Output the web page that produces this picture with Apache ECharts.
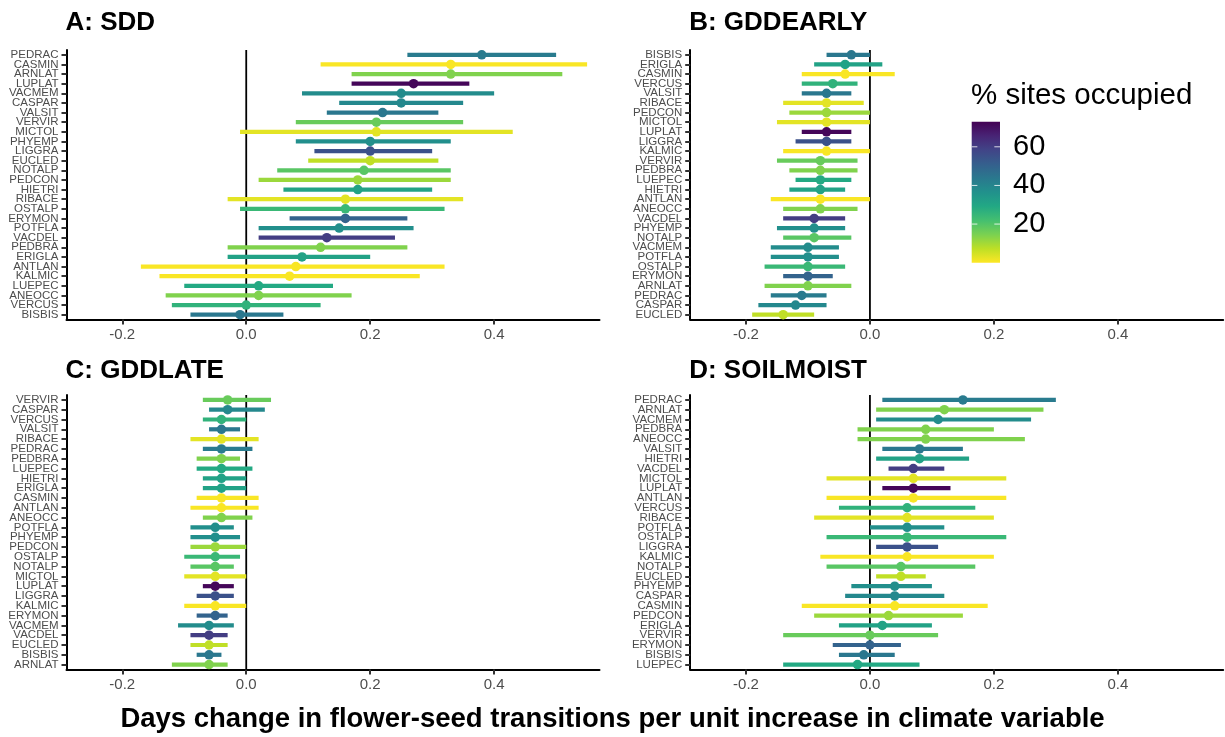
<!DOCTYPE html>
<html>
<head>
<meta charset="utf-8">
<script src="https://cdn.jsdelivr.net/npm/echarts@6/dist/echarts.min.js"></script>
<style>
  html, body { margin: 0; padding: 0; background: #fff; }
  #chart { width: 1225px; height: 737px; }
</style>
</head>
<body>
<div id="chart"></div>
<script>
// Percentage of sites occupied by each species (drives the colour scale)
const species   = ['LUPLAT','VACDEL','LIGGRA','ERYMON','BISBIS','VALSIT','PEDRAC','CASPAR','VACMEM','PHYEMP',
                   'POTFLA','HIETRI','ERIGLA','LUEPEC','VERCUS','OSTALP','NOTALP','VERVIR','ARNLAT','PEDBRA',
                   'ANEOCC','PEDCON','EUCLED','RIBACE','MICTOL','CASMIN','ANTLAN','KALMIC'];
const occupancy = [72, 60, 55, 50, 44, 44, 43, 39, 38, 37,
                   37, 31, 31, 29, 26, 24, 19, 17, 14, 14,
                   14, 11, 7, 3, 3, 0.5, 0.5, 0.5];
const occRange = [0, 73];
const legendTicks = [20, 40, 60];

// A: SDD
const sddSpecies = ['PEDRAC','CASMIN','ARNLAT','LUPLAT','VACMEM','CASPAR','VALSIT','VERVIR','MICTOL','PHYEMP',
                    'LIGGRA','EUCLED','NOTALP','PEDCON','HIETRI','RIBACE','OSTALP','ERYMON','POTFLA','VACDEL',
                    'PEDBRA','ERIGLA','ANTLAN','KALMIC','LUEPEC','ANEOCC','VERCUS','BISBIS'];
const sddLow  = [0.26, 0.12, 0.17, 0.17, 0.09, 0.15, 0.13, 0.08, -0.01, 0.08,
                 0.11, 0.10, 0.05, 0.02, 0.06, -0.03, -0.01, 0.07, 0.02, 0.02,
                 -0.03, -0.03, -0.17, -0.14, -0.10, -0.13, -0.12, -0.09];
const sddEst  = [0.38, 0.33, 0.33, 0.27, 0.25, 0.25, 0.22, 0.21, 0.21, 0.20,
                 0.20, 0.20, 0.19, 0.18, 0.18, 0.16, 0.16, 0.16, 0.15, 0.13,
                 0.12, 0.09, 0.08, 0.07, 0.02, 0.02, 0.00, -0.01];
const sddHigh = [0.50, 0.55, 0.51, 0.36, 0.40, 0.35, 0.31, 0.35, 0.43, 0.33,
                 0.30, 0.31, 0.33, 0.33, 0.30, 0.35, 0.32, 0.26, 0.27, 0.24,
                 0.26, 0.20, 0.32, 0.28, 0.14, 0.17, 0.12, 0.06];

// B: GDDEARLY
const earlySpecies = ['BISBIS','ERIGLA','CASMIN','VERCUS','VALSIT','RIBACE','PEDCON','MICTOL','LUPLAT','LIGGRA',
                      'KALMIC','VERVIR','PEDBRA','LUEPEC','HIETRI','ANTLAN','ANEOCC','VACDEL','PHYEMP','NOTALP',
                      'VACMEM','POTFLA','OSTALP','ERYMON','ARNLAT','PEDRAC','CASPAR','EUCLED'];
const earlyLow  = [-0.07, -0.09, -0.11, -0.11, -0.11, -0.14, -0.13, -0.15, -0.11, -0.12,
                   -0.14, -0.15, -0.13, -0.12, -0.13, -0.16, -0.14, -0.14, -0.15, -0.14,
                   -0.16, -0.16, -0.17, -0.14, -0.17, -0.16, -0.18, -0.19];
const earlyEst  = [-0.03, -0.04, -0.04, -0.06, -0.07, -0.07, -0.07, -0.07, -0.07, -0.07,
                   -0.07, -0.08, -0.08, -0.08, -0.08, -0.08, -0.08, -0.09, -0.09, -0.09,
                   -0.10, -0.10, -0.10, -0.10, -0.10, -0.11, -0.12, -0.14];
const earlyHigh = [0.00, 0.02, 0.04, -0.02, -0.03, -0.01, 0.00, 0.00, -0.03, -0.03,
                   0.00, -0.02, -0.02, -0.03, -0.04, 0.00, -0.02, -0.04, -0.04, -0.03,
                   -0.05, -0.05, -0.04, -0.06, -0.03, -0.07, -0.07, -0.09];

// C: GDDLATE
const lateSpecies = ['VERVIR','CASPAR','VERCUS','VALSIT','RIBACE','PEDRAC','PEDBRA','LUEPEC','HIETRI','ERIGLA',
                     'CASMIN','ANTLAN','ANEOCC','POTFLA','PHYEMP','PEDCON','OSTALP','NOTALP','MICTOL','LUPLAT',
                     'LIGGRA','KALMIC','ERYMON','VACMEM','VACDEL','EUCLED','BISBIS','ARNLAT'];
const lateLow  = [-0.07, -0.06, -0.07, -0.06, -0.09, -0.07, -0.08, -0.08, -0.07, -0.07,
                  -0.08, -0.09, -0.07, -0.09, -0.09, -0.09, -0.10, -0.09, -0.10, -0.07,
                  -0.08, -0.10, -0.08, -0.11, -0.09, -0.09, -0.08, -0.12];
const lateEst  = [-0.03, -0.03, -0.04, -0.04, -0.04, -0.04, -0.04, -0.04, -0.04, -0.04,
                  -0.04, -0.04, -0.04, -0.05, -0.05, -0.05, -0.05, -0.05, -0.05, -0.05,
                  -0.05, -0.05, -0.05, -0.06, -0.06, -0.06, -0.06, -0.06];
const lateHigh = [0.04, 0.03, 0.00, -0.01, 0.02, 0.01, -0.01, 0.01, 0.00, 0.00,
                  0.02, 0.02, 0.01, -0.02, -0.01, 0.00, -0.01, -0.02, 0.00, -0.02,
                  -0.02, 0.00, -0.03, -0.02, -0.03, -0.03, -0.04, -0.03];

// D: SOILMOIST
const soilSpecies = ['PEDRAC','ARNLAT','VACMEM','PEDBRA','ANEOCC','VALSIT','HIETRI','VACDEL','MICTOL','LUPLAT',
                     'ANTLAN','VERCUS','RIBACE','POTFLA','OSTALP','LIGGRA','KALMIC','NOTALP','EUCLED','PHYEMP',
                     'CASPAR','CASMIN','PEDCON','ERIGLA','VERVIR','ERYMON','BISBIS','LUEPEC'];
const soilLow  = [0.02, 0.01, 0.01, -0.02, -0.02, 0.02, 0.01, 0.03, -0.07, 0.02,
                  -0.07, -0.05, -0.09, 0.00, -0.07, 0.01, -0.08, -0.07, 0.01, -0.03,
                  -0.04, -0.11, -0.09, -0.05, -0.14, -0.06, -0.05, -0.14];
const soilEst  = [0.15, 0.12, 0.11, 0.09, 0.09, 0.08, 0.08, 0.07, 0.07, 0.07,
                  0.07, 0.06, 0.06, 0.06, 0.06, 0.06, 0.06, 0.05, 0.05, 0.04,
                  0.04, 0.04, 0.03, 0.02, 0.00, 0.00, -0.01, -0.02];
const soilHigh = [0.30, 0.28, 0.26, 0.20, 0.25, 0.15, 0.16, 0.12, 0.22, 0.13,
                  0.22, 0.17, 0.20, 0.12, 0.22, 0.11, 0.20, 0.17, 0.09, 0.10,
                  0.12, 0.19, 0.15, 0.10, 0.11, 0.05, 0.04, 0.08];

const xTicks = [-0.2, 0, 0.2, 0.4];
const xRange = [-0.29, 0.57];

const FONT = 'Liberation Sans, Arial, Helvetica, sans-serif';
const viridis = ['#440154','#482475','#414487','#355F8D','#2A788E','#21918C',
                 '#22A884','#44BF70','#7AD151','#BDDF26','#FDE725'];

function hexToRgb(h) {
  return [parseInt(h.slice(1, 3), 16), parseInt(h.slice(3, 5), 16), parseInt(h.slice(5, 7), 16)];
}
function viridisAt(s) {
  s = Math.min(1, Math.max(0, s));
  const pos = s * (viridis.length - 1);
  const i = Math.min(viridis.length - 2, Math.floor(pos));
  const f = pos - i;
  const a = hexToRgb(viridis[i]), b = hexToRgb(viridis[i + 1]);
  const c = a.map((v, k) => Math.round(v + (b[k] - v) * f));
  return 'rgb(' + c.join(',') + ')';
}
// high occupancy -> purple, low occupancy -> yellow
function occColour(name) {
  const v = occupancy[species.indexOf(name)];
  return viridisAt(1 - (v - occRange[0]) / (occRange[1] - occRange[0]));
}

const panels = [
  { title: 'A: SDD',       names: sddSpecies,   low: sddLow,   est: sddEst,   high: sddHigh,   left: 66.5,  top: 50,  height: 269.5, titleTop: 10 },
  { title: 'B: GDDEARLY',  names: earlySpecies, low: earlyLow, est: earlyEst, high: earlyHigh, left: 690.2, top: 50,  height: 269.5, titleTop: 10 },
  { title: 'C: GDDLATE',   names: lateSpecies,  low: lateLow,  est: lateEst,  high: lateHigh,  left: 66.5,  top: 395, height: 274.5, titleTop: 358 },
  { title: 'D: SOILMOIST', names: soilSpecies,  low: soilLow,  est: soilEst,  high: soilHigh,  left: 690.2, top: 395, height: 274.5, titleTop: 358 }
];
const PANEL_W = 533;

const grids = [], xAxes = [], yAxes = [], series = [], titles = [];

panels.forEach((p, k) => {
  grids.push({ left: p.left, top: p.top, width: PANEL_W, height: p.height, containLabel: false });
  titles.push({
    text: p.title, left: p.left - 1, top: p.titleTop, padding: 0,
    textStyle: { fontFamily: FONT, fontSize: 26, fontWeight: 'bold', color: '#000' }
  });
  xAxes.push({
    gridIndex: k, type: 'value', min: xRange[0], max: xRange[1],
    axisLine: { show: true, onZero: false, lineStyle: { color: '#000', width: 2 } },
    axisTick: { show: true, customValues: xTicks, length: 5, lineStyle: { color: '#333', width: 2 } },
    axisLabel: { customValues: xTicks, formatter: v => v.toFixed(1), color: '#4D4D4D',
                 fontSize: 15, margin: 8, fontFamily: FONT },
    splitLine: { show: false }
  });
  yAxes.push({
    gridIndex: k, type: 'category', data: p.names, inverse: true,
    axisLine: { show: true, onZero: false, lineStyle: { color: '#000', width: 2 } },
    axisTick: { show: true, alignWithLabel: true, length: 5, lineStyle: { color: '#333', width: 2 } },
    axisLabel: { interval: 0, color: '#4D4D4D', fontSize: 11.5, margin: 8, fontFamily: FONT },
    splitLine: { show: false }
  });

  // vertical reference line at zero
  series.push({
    type: 'custom', xAxisIndex: k, yAxisIndex: k, z: 1, silent: true,
    data: [[0, 0]],
    encode: { x: 0, y: 1 },
    renderItem: (params, api) => {
      const pt = api.coord([api.value(0), 0]);
      const cs = params.coordSys;
      return { type: 'line', shape: { x1: pt[0], y1: cs.y, x2: pt[0], y2: cs.y + cs.height },
               style: { stroke: '#000', lineWidth: 1.8 } };
    }
  });

  // interval ranges
  series.push({
    type: 'custom', xAxisIndex: k, yAxisIndex: k, z: 2, silent: true,
    data: p.names.map((n, i) => ({ value: [p.low[i], p.high[i], i], itemStyle: { color: occColour(n) } })),
    encode: { x: [0, 1], y: 2 },
    renderItem: (params, api) => {
      const a = api.coord([api.value(0), api.value(2)]);
      const b = api.coord([api.value(1), api.value(2)]);
      return { type: 'line', shape: { x1: a[0], y1: a[1], x2: b[0], y2: b[1] },
               style: { stroke: api.visual('color'), lineWidth: 4.2, lineCap: 'butt' } };
    }
  });

  // point estimates
  series.push({
    type: 'scatter', xAxisIndex: k, yAxisIndex: k, z: 3, silent: true,
    symbol: 'circle', symbolSize: 9.5,
    data: p.names.map((n, i) => ({ value: [p.est[i], i], itemStyle: { color: occColour(n), opacity: 1 } }))
  });
});

// colour bar legend
const LEG = 4;
grids.push({ left: 971.7, top: 121.7, width: 28.3, height: 141 });
xAxes.push({ gridIndex: LEG, type: 'value', min: 0, max: 1, show: false });
yAxes.push({
  gridIndex: LEG, type: 'value', min: occRange[0], max: occRange[1], position: 'right',
  axisLine: { show: false }, axisTick: { show: false }, splitLine: { show: false },
  axisLabel: { customValues: legendTicks, color: '#000', fontSize: 29, margin: 13, fontFamily: FONT }
});
series.push({
  type: 'custom', xAxisIndex: LEG, yAxisIndex: LEG, silent: true,
  data: [[0, 0]],
  encode: { x: 0, y: 1 },
  renderItem: (params, api) => {
    const top = api.coord([0, occRange[1]]);
    const bot = api.coord([1, occRange[0]]);
    const children = [{
      type: 'rect',
      shape: { x: top[0], y: top[1], width: bot[0] - top[0], height: bot[1] - top[1] },
      style: { fill: { type: 'linear', x: 0, y: 0, x2: 0, y2: 1,
                       colorStops: viridis.map((c, i) => ({ offset: i / (viridis.length - 1), color: c })) } }
    }];
    const w = bot[0] - top[0];
    legendTicks.forEach(t => {
      const y = api.coord([0, t])[1];
      children.push({ type: 'line', shape: { x1: top[0], y1: y, x2: top[0] + w * 0.2, y2: y },
                      style: { stroke: 'rgba(255,255,255,0.8)', lineWidth: 1 } });
      children.push({ type: 'line', shape: { x1: bot[0] - w * 0.2, y1: y, x2: bot[0], y2: y },
                      style: { stroke: 'rgba(255,255,255,0.8)', lineWidth: 1 } });
    });
    return { type: 'group', children };
  }
});

titles.push({
  text: '% sites occupied', left: 971, top: 81, padding: 0,
  textStyle: { fontFamily: FONT, fontSize: 29.5, fontWeight: 'normal', color: '#000' }
});
titles.push({
  text: 'Days change in flower-seed transitions per unit increase in climate variable',
  left: 'center', top: 705, padding: 0,
  textStyle: { fontFamily: FONT, fontSize: 27.5, fontWeight: 'bold', color: '#000' }
});

const chart = echarts.init(document.getElementById('chart'), null, { renderer: 'canvas' });
chart.setOption({
  animation: false,
  backgroundColor: '#fff',
  textStyle: { fontFamily: FONT },
  title: titles,
  grid: grids,
  xAxis: xAxes,
  yAxis: yAxes,
  series: series
});
</script>
</body>
</html>
